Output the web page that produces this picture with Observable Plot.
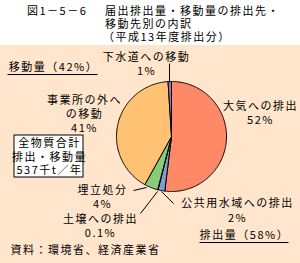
<!DOCTYPE html>
<html><head><meta charset="utf-8">
<script src="https://cdn.jsdelivr.net/npm/d3@7"></script>
<script src="https://cdn.jsdelivr.net/npm/@observablehq/plot@0.6"></script>
<style>
body{margin:0;background:#fff;font-family:'Noto Sans CJK JP',sans-serif;}
#title{position:relative;width:300px;height:45px;background:#fff;font-size:11px;line-height:13px;letter-spacing:1.5px;color:#000;}
#title span{position:absolute;white-space:nowrap;}
</style></head>
<body>
<div id="title">
  <span style="left:27px;top:4px;">図1－5－6</span>
  <span style="left:105px;top:4px;">届出排出量・移動量の排出先・</span>
  <span style="left:105px;top:17px;">移動先別の内訳</span>
  <span style="left:103px;top:30px;">（平成13年度排出分）</span>
</div>
<div id="chart"></div>
<script>
// ---- data ----
const categories = ["大気への排出","公共用水域への排出","土壌への排出","埋立処分","事業所の外への移動","下水道への移動"];
const shares = [52, 2, 0.1, 4, 41, 1];
const shareLabels = ["52%","2%","0.1%","4%","41%","1%"];
const groupLabels = ["移動量（42%）","排出量（58%）"];
const totalLines = ["全物質合計","排出・移動量","537千t／年"];
const source = "資料：環境省、経済産業省";

// ---- style / layout ----
const sliceColors = ["#FF8866","#7B9ED6","#88CC77","#88CC77","#FFC272","#A070C8"];
const pie = {cx:171, cy:136, r:55};
const labelLayout = [
  {lines:["大気への排出","52%"], x:260, y:[106,120]},
  {lines:["公共用水域への排出","2%"], x:237, y:[203,218]},
  {lines:["土壌への排出","0.1%"], x:100, y:[219,233]},
  {lines:["埋立処分","4%"], x:102, y:[190,204]},
  {lines:["事業所の外へ","の移動","41%"], x:84, y:[100,114,128]},
  {lines:["下水道への移動","1%"], x:146, y:[57,71]}
];
const leaders = [
  {x1:169,y1:63,x2:169,y2:82},
  {x1:133,y1:190,x2:146,y2:187},
  {x1:140,y1:213,x2:157,y2:191},
  {x1:161,y1:191,x2:173,y2:203}
];

// ---- build slices from data ----
const total = d3.sum(shares);
let acc = 0;
const slicePts = shares.map((v, i) => {
  const a0 = acc / total * 2 * Math.PI;
  acc += v;
  const a1 = acc / total * 2 * Math.PI;
  const n = Math.max(2, Math.ceil((a1 - a0) / (Math.PI / 180)));
  const pts = [{x: pie.cx, y: pie.cy}];
  for (let k = 0; k <= n; k++) {
    const a = a0 + (a1 - a0) * k / n;
    pts.push({x: pie.cx + pie.r * Math.sin(a), y: pie.cy - pie.r * Math.cos(a)});
  }
  pts.push({x: pie.cx, y: pie.cy});
  return {pts, color: sliceColors[i]};
});

const texts = [];
labelLayout.forEach((L, i) => {
  const lines = L.lines.slice(0, -1).concat([shareLabels[i]]);
  lines.forEach((t, j) => texts.push({x: L.x, y: L.y[j], text: t, anchor: "middle"}));
});
texts.push({x:53, y:67, text: groupLabels[0], anchor:"middle"});
texts.push({x:244, y:235, text: groupLabels[1], anchor:"middle"});
totalLines.forEach((t, j) => texts.push({x:49, y:143 + j*13.5, text:t, anchor:"middle"}));
texts.push({x:10, y:250, text: source, anchor:"start"});

const underlines = [
  {x1:7, x2:97, y:74},
  {x1:199, x2:288, y:242}
];

const chart = Plot.plot({
  width: 300, height: 218, margin: 0,
  x: {domain: [0, 300], range: [0, 300], axis: null},
  y: {domain: [45, 263], range: [0, 218], axis: null},
  style: {background: "#FFE5CC", fontFamily: "'Noto Sans CJK JP', sans-serif", fontSize: "11px", letterSpacing: "1.5px", color: "#000", overflow: "visible"},
  marks: [
    ...slicePts.map(s => Plot.line(s.pts, {x: "x", y: "y", fill: s.color, stroke: "#000", strokeWidth: 1, curve: "linear"})),
    Plot.link(leaders, {x1: "x1", y1: "y1", x2: "x2", y2: "y2", stroke: "#000", strokeWidth: 1}),
    Plot.link(underlines, {x1: "x1", x2: "x2", y1: "y", y2: "y", stroke: "#000", strokeWidth: 1.2}),
    Plot.rect([{x1:14, x2:83, y1:135, y2:177}], {x1:"x1", x2:"x2", y1:"y1", y2:"y2", fill:"#fff", stroke:"#000", strokeWidth:1}),
    Plot.text(texts.filter(d => d.anchor === "middle"), {x:"x", y:"y", text:"text", textAnchor:"middle", fill:"#000"}),
    Plot.text(texts.filter(d => d.anchor === "start"), {x:"x", y:"y", text:"text", textAnchor:"start", fill:"#000"})
  ]
});
document.getElementById("chart").appendChild(chart);
</script>
</body></html>
